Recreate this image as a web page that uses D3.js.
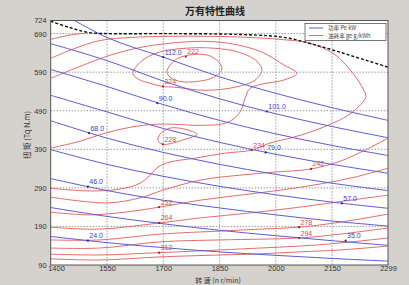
<!DOCTYPE html>
<html>
<head>
<meta charset="utf-8">
<script src="https://cdn.jsdelivr.net/npm/d3@7"></script>
<style>
body { margin: 0; background: #d5d2cd; }
svg { display: block; font-family: "Liberation Sans", Arial, sans-serif; }
</style>
</head>
<body>
<div id="chart"></div>
<script>
// ---- data ----
var rpmTicks = [1400, 1550, 1700, 1850, 2000, 2150, 2299];
var torqueTicks = [90, 190, 290, 390, 490, 590, 690, 724];

// full load curve (black dashed)
var fullLoadRpm    = [1400, 1450, 1500, 1550, 1700, 1850, 1950, 2000, 2050, 2100, 2150, 2200, 2250, 2299];
var fullLoadTorque = [722, 706, 693, 690, 690, 689, 686, 683, 675, 662, 648, 633, 618, 603];

// constant power lines, kW
var powerLevels = [24, 35, 46, 57, 68, 79, 90, 101, 112];
var powerRpm = [1400, 1550, 1700, 1850, 2000, 2150, 2299];
var powerTorque = [
  [164, 148, 135, 124, 115, 107, 100],
  [239, 216, 197, 180, 166, 153, 141],
  [314, 283, 258, 238, 220, 204, 191],
  [389, 351, 320, 294, 272, 253, 237],
  [464, 419, 382, 351, 325, 302, 283],
  [530, 487, 444, 408, 377, 351, 328],
  [597, 553, 506, 465, 430, 400, 374],
  [664, 620, 567, 521, 482, 449, 420],
  [760, 680, 629, 578, 535, 498, 465]
];
var powerLabelRpm    = [1499, 2186, 1499, 2176, 1502, 1973, 1684, 1976, 1700];
var powerLabelTorque = [153, 153, 293, 250, 432, 382, 510, 488, 629];

// fuel consumption contours, g/kWh  ([rpm, torque])
var bsfc222 = [[1710,592],[1731,621],[1766,634],[1819,634],[1848,616],[1856,597],[1835,577],[1792,566],[1745,566],[1718,577]];
var bsfc224 = [[1619,587],[1641,618],[1686,641],[1758,652],[1838,652],[1904,641],[1950,618],[1963,595],[1944,569],[1891,551],[1811,543],[1731,551],[1699,553],[1665,561],[1633,572]];
var bsfc228 = [[1400,574],[1478,605],[1558,634],[1638,654],[1718,665],[1811,670],[1891,662],[1963,642],[2019,610],[2056,587],[2019,569],[1963,559],[1931,548],[1918,522],[1904,486],[1872,460],[1798,452],[1731,455],[1678,455],[1611,447],[1545,432],[1478,411],[1400,393]];
var bsfc228b = [[1691,429],[1718,445],[1758,442],[1790,429],[1758,416],[1699,403],[1686,413]];
var bsfc234 = [[1400,626],[1465,652],[1531,672],[1611,680],[1718,683],[1824,683],[1931,680],[2011,675],[2091,665],[2157,636],[2203,590],[2229,553],[2240,527],[2219,499],[2184,473],[2152,458],[2099,437],[2046,421],[1984,406],[1936,388],[1864,380],[1785,367],[1718,357],[1686,344],[1665,323],[1638,302],[1585,287],[1505,282],[1400,289]];
var bsfc242a = [[1400,675],[1450,686],[1500,692]];
var bsfc242 = [[1400,266],[1550,251],[1638,264],[1699,284],[1798,310],[1904,323],[1998,331],[2094,339],[2171,359],[2238,388],[2299,419]];
var bsfc252 = [[1400,227],[1505,220],[1598,227],[1689,240],[1798,258],[1904,271],[2011,284],[2118,300],[2211,318],[2299,341]];
var bsfc264 = [[1400,188],[1531,183],[1689,199],[1798,212],[1931,225],[2064,240],[2198,258],[2299,271]];
var bsfc278 = [[1400,155],[1531,155],[1691,170],[1851,178],[1958,183],[2062,188],[2171,201],[2299,222]];
var bsfc294 = [[1400,134],[1531,134],[1691,150],[1851,155],[1958,157],[2062,160],[2171,170],[2299,186]];
var bsfc312 = [[1400,118],[1531,116],[1689,122],[1851,129],[1958,134],[2062,139],[2171,147],[2299,160]];
var bsfc330 = [[1400,106],[1531,103],[1691,111],[1851,116],[1958,119],[2062,124],[2171,129],[2299,139]];

var bsfcClosed = [bsfc222, bsfc224, bsfc228b];
var bsfcOpen = [bsfc228, bsfc234, bsfc242a, bsfc242, bsfc252, bsfc264, bsfc278, bsfc294, bsfc312, bsfc330];

// contour labels [value, rpm, torque]
var bsfcLabels = [[222,1760,630],[224,1699,553],[228,1699,403],[234,1936,388],[242,2094,339],
                  [252,1689,240],[264,1689,199],[278,2062,188],[294,2062,160],[312,1689,122]];

// ---- drawing ----
var width = 409, height = 285;
var box = {left: 50.7, right: 388, top: 20.5, bottom: 265};
var blue = "#5b5bd6", red = "#e46a6a";

var xScale = d3.scaleLinear().domain([1400, 2299]).range([box.left, box.right]);
var yScale = d3.scaleLinear().domain([90, 724]).range([box.bottom, box.top]);

var svg = d3.select("#chart").append("svg")
    .attr("width", width)
    .attr("height", height);

svg.append("defs").append("clipPath").attr("id", "plotclip")
   .append("rect")
   .attr("x", box.left).attr("y", box.top)
   .attr("width", box.right - box.left).attr("height", box.bottom - box.top);

svg.append("rect")
   .attr("x", box.left).attr("y", box.top)
   .attr("width", box.right - box.left).attr("height", box.bottom - box.top)
   .attr("fill", "#fff");

// dotted grid
var grid = svg.append("g").attr("stroke", "#444").attr("stroke-width", 0.8).attr("stroke-dasharray", "1,2");
grid.selectAll(".gx").data(rpmTicks.slice(1, -1)).enter().append("line")
    .attr("x1", function(d) { return xScale(d); }).attr("x2", function(d) { return xScale(d); })
    .attr("y1", box.top).attr("y2", box.bottom);
grid.selectAll(".gy").data(torqueTicks.filter(function(d) { return d > 90 && d < 724; })).enter().append("line")
    .attr("y1", function(d) { return yScale(d); }).attr("y2", function(d) { return yScale(d); })
    .attr("x1", box.left).attr("x2", box.right);

var plot = svg.append("g").attr("clip-path", "url(#plotclip)");

var line = d3.line()
    .x(function(d) { return xScale(d[0]); })
    .y(function(d) { return yScale(d[1]); })
    .curve(d3.curveCatmullRom.alpha(0.5));
var loop = d3.line()
    .x(function(d) { return xScale(d[0]); })
    .y(function(d) { return yScale(d[1]); })
    .curve(d3.curveCatmullRomClosed.alpha(0.5));

// fuel consumption contours
plot.selectAll(".bsfc").data(bsfcOpen).enter().append("path")
    .attr("d", line).attr("fill", "none").attr("stroke", red).attr("stroke-width", 1);
plot.selectAll(".bsfcloop").data(bsfcClosed).enter().append("path")
    .attr("d", loop).attr("fill", "none").attr("stroke", red).attr("stroke-width", 1);

// power lines
plot.selectAll(".power").data(powerTorque).enter().append("path")
    .attr("d", function(row) { return line(row.map(function(t, i) { return [powerRpm[i], t]; })); })
    .attr("fill", "none").attr("stroke", blue).attr("stroke-width", 1);

// full load curve
plot.append("path")
    .attr("d", line(fullLoadRpm.map(function(r, i) { return [r, fullLoadTorque[i]]; })))
    .attr("fill", "none").attr("stroke", "#111").attr("stroke-width", 1.4).attr("stroke-dasharray", "3,2");

// labels on lines
var labels = svg.append("g").attr("font-size", "7px");
powerLevels.forEach(function(p, i) {
    var px = xScale(powerLabelRpm[i]), py = yScale(powerLabelTorque[i]);
    labels.append("circle").attr("cx", px).attr("cy", py).attr("r", 1.1).attr("fill", "#22228a");
    labels.append("text").attr("x", px + 1.5).attr("y", py - 2.5).attr("fill", "#3a3ad0").text(p.toFixed(1));
});
bsfcLabels.forEach(function(l) {
    var px = xScale(l[1]), py = yScale(l[2]);
    labels.append("circle").attr("cx", px).attr("cy", py).attr("r", 1.1).attr("fill", "#a02020");
    labels.append("text").attr("x", px + 1.5).attr("y", py - 2.5).attr("fill", "#d84a4a").text(l[0]);
});

// frame
svg.append("rect")
   .attr("x", box.left).attr("y", box.top)
   .attr("width", box.right - box.left).attr("height", box.bottom - box.top)
   .attr("fill", "none").attr("stroke", "#555").attr("stroke-width", 1);

// axes
var xAxis = d3.axisBottom(xScale).tickValues(rpmTicks).tickSize(0).tickPadding(1).tickFormat(d3.format("d"));
var yAxis = d3.axisLeft(yScale).tickValues(torqueTicks).tickSize(0).tickPadding(4).tickFormat(d3.format("d"));

var gx = svg.append("g").attr("transform", "translate(0," + box.bottom + ")").call(xAxis);
var gy = svg.append("g").attr("transform", "translate(" + box.left + ",0)").call(yAxis);
[gx, gy].forEach(function(g) {
    g.select(".domain").remove();
    g.selectAll("text").attr("font-size", "7.5px").attr("fill", "#333")
     .attr("font-family", "Liberation Sans, Arial, sans-serif");
});
// first speed label sits just right of the corner, as in the original
gx.selectAll(".tick text").filter(function(d) { return d === 1400; })
  .attr("text-anchor", "start").attr("x", -3);

// titles
svg.append("text")
   .attr("x", 215).attr("y", 15)
   .attr("text-anchor", "middle")
   .attr("font-family", "Noto Sans CJK SC")
   .attr("font-weight", "bold").attr("font-size", "10px").attr("fill", "#222")
   .text("万有特性曲线");

svg.append("text")
   .attr("x", 218).attr("y", 283)
   .attr("text-anchor", "middle")
   .attr("font-family", "Noto Sans CJK SC")
   .attr("font-size", "7px").attr("fill", "#333")
   .text("转 速 (n r/min)");

svg.append("text")
   .attr("transform", "translate(30,135) rotate(-90)")
   .attr("text-anchor", "middle")
   .attr("font-family", "Noto Sans CJK SC")
   .attr("font-size", "7.5px").attr("fill", "#333")
   .text("扭 矩 (Tq N.m)");

// legend
var legend = svg.append("g");
legend.append("rect").attr("x", 305).attr("y", 23.5).attr("width", 81).attr("height", 17)
      .attr("fill", "#fff").attr("stroke", "#555").attr("stroke-width", 0.8);
[["功率 Pe kW", blue, 28], ["油耗率 ge g/kWh", red, 35.5]].forEach(function(item) {
    legend.append("line").attr("x1", 309).attr("x2", 323).attr("y1", item[2]).attr("y2", item[2])
          .attr("stroke", item[1]).attr("stroke-width", 1);
    legend.append("text").attr("x", 328).attr("y", item[2] + 2)
          .attr("font-family", "Noto Sans CJK SC").attr("font-size", "5.6px").attr("fill", "#444")
          .text(item[0]);
});
</script>
</body>
</html>
